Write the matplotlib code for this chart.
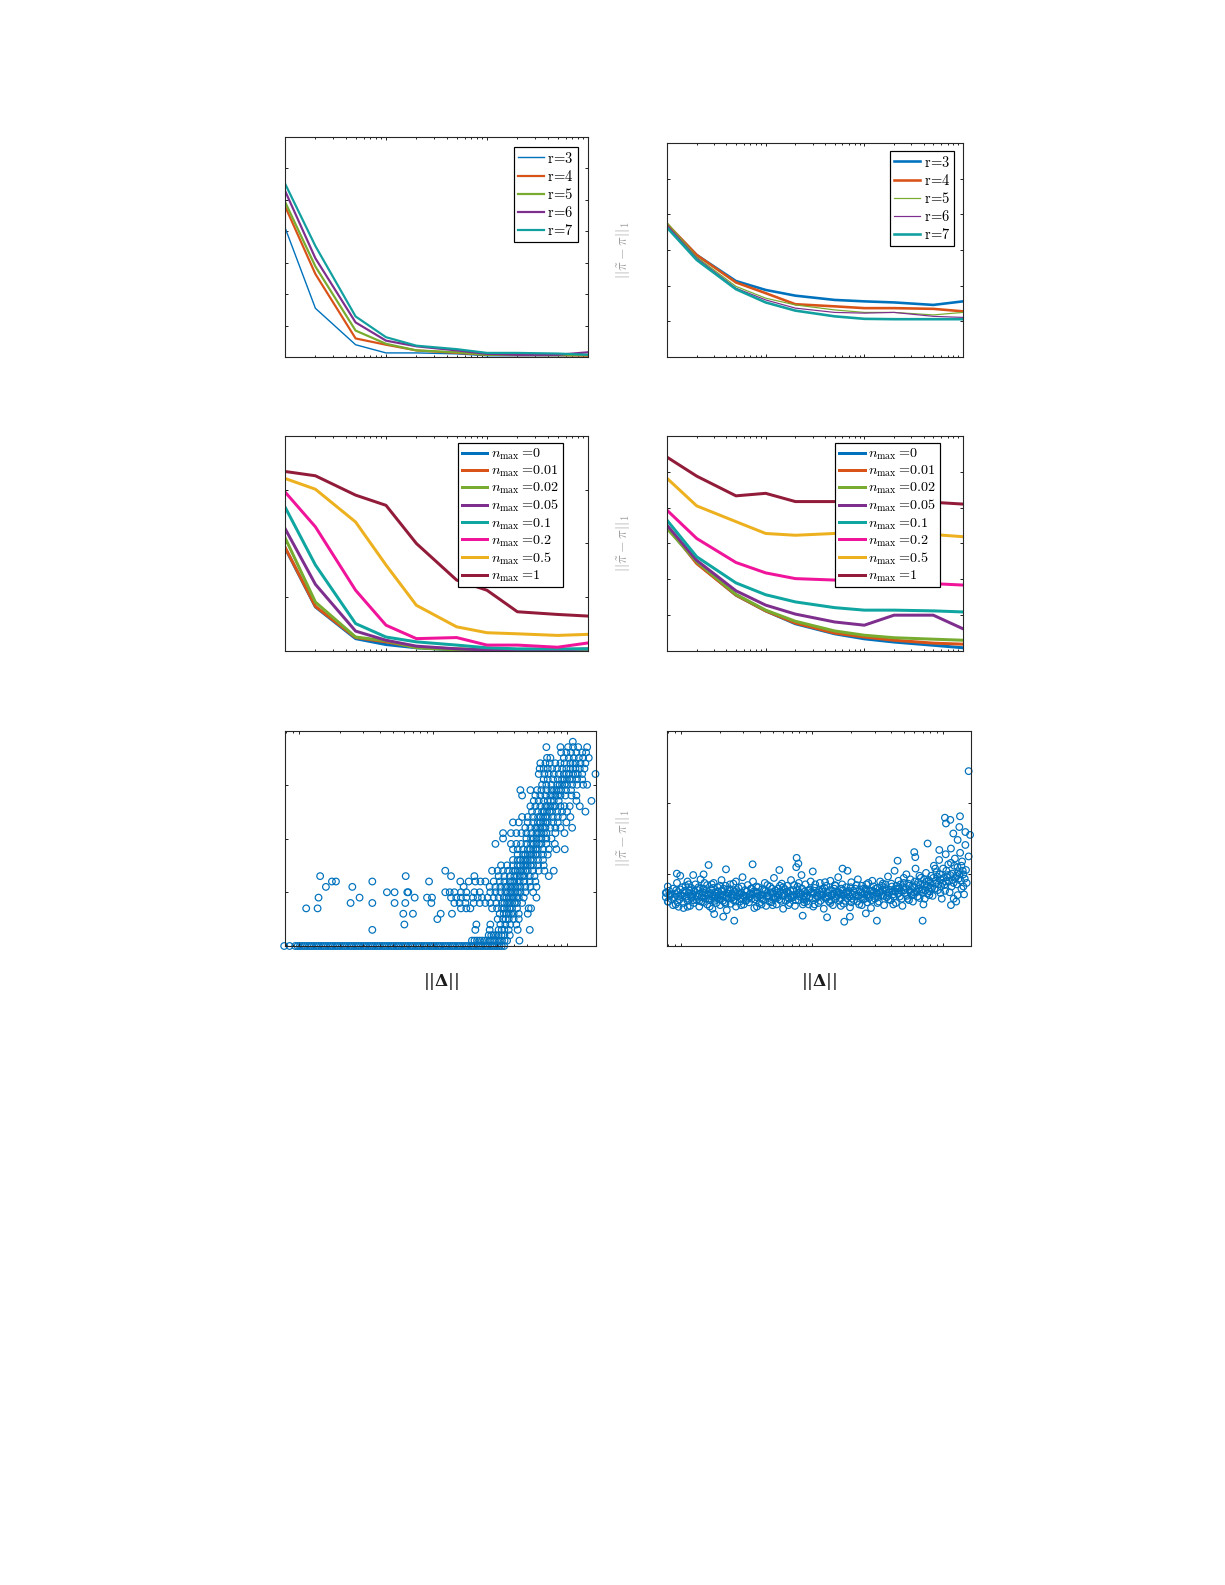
import numpy as np
import matplotlib.pyplot as plt
from matplotlib.ticker import LogLocator, NullFormatter, MultipleLocator

plt.rcParams['mathtext.fontset'] = 'cm'
plt.rcParams['font.family'] = ['DejaVu Serif']

# ---------------- data ----------------
x_samples = [1, 2, 5, 10, 20, 50, 100, 200, 500, 1000]

r_labels = ['3', '4', '5', '6', '7']
r_colors = ['#0072BD', '#D95319', '#77AC30', '#7E2F8E', '#129FA0']

# top left
r_left = [
    [4.12, 1.55, 0.39, 0.13, 0.13, 0.10, 0.04, 0.04, 0.04, 0.05],
    [4.80, 2.64, 0.59, 0.39, 0.21, 0.13, 0.07, 0.06, 0.06, 0.04],
    [4.94, 2.88, 0.84, 0.42, 0.21, 0.15, 0.07, 0.07, 0.06, 0.06],
    [5.29, 3.14, 1.10, 0.52, 0.34, 0.21, 0.10, 0.07, 0.07, 0.15],
    [5.52, 3.53, 1.29, 0.63, 0.36, 0.25, 0.13, 0.13, 0.11, 0.07],
]
r_left_lw = [0.7, 1.1, 1.1, 1.1, 1.1]

# top right
r_right = [
    [3.70, 2.86, 2.13, 1.88, 1.72, 1.60, 1.56, 1.53, 1.46, 1.56],
    [3.73, 2.86, 2.09, 1.79, 1.48, 1.42, 1.37, 1.37, 1.35, 1.28],
    [3.77, 2.80, 1.98, 1.65, 1.46, 1.32, 1.25, 1.25, 1.18, 1.25],
    [3.70, 2.77, 1.93, 1.60, 1.37, 1.25, 1.23, 1.25, 1.14, 1.11],
    [3.63, 2.72, 1.90, 1.53, 1.30, 1.14, 1.07, 1.06, 1.06, 1.06],
]
r_right_lw = [1.3, 1.3, 0.6, 0.6, 1.3]

n_labels = ['0', '0.01', '0.02', '0.05', '0.1', '0.2', '0.5', '1']
n_colors = ['#0072BD', '#D95319', '#77AC30', '#7E2F8E', '#0FA5A0',
            '#F0149A', '#EDB120', '#921B3A']

# middle left
n_left = [
    [1.92, 0.82, 0.23, 0.12, 0.06, 0.02, 0.01, 0.01, 0.01, 0.01],
    [1.93, 0.83, 0.25, 0.17, 0.07, 0.04, 0.02, 0.01, 0.02, 0.02],
    [2.11, 0.91, 0.26, 0.19, 0.06, 0.02, 0.01, 0.01, 0.01, 0.01],
    [2.28, 1.24, 0.37, 0.20, 0.09, 0.04, 0.02, 0.02, 0.02, 0.04],
    [2.68, 1.60, 0.51, 0.26, 0.17, 0.11, 0.06, 0.04, 0.04, 0.04],
    [2.96, 2.31, 1.13, 0.48, 0.23, 0.25, 0.11, 0.11, 0.07, 0.15],
    [3.21, 3.01, 2.40, 1.60, 0.85, 0.45, 0.34, 0.32, 0.29, 0.31],
    [3.34, 3.26, 2.90, 2.71, 2.00, 1.32, 1.13, 0.73, 0.68, 0.65],
]

# middle right
n_right = [
    [3.47, 2.46, 1.56, 1.12, 0.76, 0.48, 0.34, 0.25, 0.16, 0.09],
    [3.49, 2.44, 1.56, 1.12, 0.78, 0.50, 0.39, 0.30, 0.22, 0.19],
    [3.42, 2.49, 1.58, 1.14, 0.83, 0.56, 0.44, 0.37, 0.33, 0.30],
    [3.51, 2.53, 1.68, 1.28, 1.03, 0.81, 0.72, 1.00, 1.00, 0.62],
    [3.65, 2.63, 1.90, 1.57, 1.37, 1.21, 1.14, 1.14, 1.12, 1.09],
    [3.93, 3.14, 2.47, 2.18, 2.02, 1.98, 1.96, 1.93, 1.88, 1.84],
    [4.82, 4.05, 3.61, 3.28, 3.23, 3.28, 3.28, 3.28, 3.25, 3.19],
    [5.41, 4.88, 4.33, 4.40, 4.17, 4.17, 4.17, 4.16, 4.15, 4.10],
]

# bottom left scatter: rows of (error, log10 ||Delta||)
scatter5_rows = [
    (0.0, [-0.112, -0.072, -0.030, -0.012, 0.005, 0.022, 0.040, 0.058, 0.075, 0.092,
           0.110, 0.128, 0.145, 0.163, 0.180, 0.198, 0.215, 0.233, 0.250, 0.268,
           0.285, 0.303, 0.320, 0.338, 0.355, 0.373, 0.390, 0.408, 0.425, 0.443,
           0.460, 0.478, 0.495, 0.513, 0.530, 0.548, 0.565, 0.583, 0.600, 0.618,
           0.635, 0.653, 0.670, 0.688, 0.705, 0.723, 0.740, 0.758, 0.775, 0.793,
           0.810, 0.828, 0.845, 0.863, 0.880, 0.898, 0.915, 0.933, 0.950, 0.968,
           0.985, 1.003, 1.020, 1.038, 1.055, 1.073, 1.090, 1.108, 1.125, 1.143,
           1.160, 1.178, 1.195, 1.213, 1.230, 1.248, 1.265, 1.283, 1.300, 1.318,
           1.335, 1.353, 1.370, 1.388, 1.405, 1.423, 1.440, 1.458, 1.475, 1.493,
           1.510, 1.528]),
    (0.1, [1.288, 1.307, 1.326, 1.345, 1.363, 1.382, 1.400, 1.420, 1.438, 1.456,
           1.475, 1.494, 1.512, 1.531, 1.550, 1.642]),
    (0.2, [1.413, 1.432, 1.450, 1.468, 1.487, 1.508, 1.530, 1.570]),
    (0.3, [0.545, 1.313, 1.420, 1.487, 1.510, 1.530, 1.562, 1.629, 1.719]),
    (0.4, [0.784, 1.321, 1.425, 1.500, 1.537, 1.574, 1.619]),
    (0.5, [1.030, 1.480, 1.520, 1.540, 1.562, 1.599, 1.637]),
    (0.6, [0.776, 0.848, 1.055, 1.139, 1.495, 1.525, 1.545, 1.562, 1.580, 1.599, 1.637, 1.704]),
    (0.7, [0.052, 0.137, 1.206, 1.246, 1.276, 1.438, 1.475, 1.512, 1.530, 1.550, 1.568,
           1.587, 1.624, 1.711, 1.729]),
    (0.8, [0.383, 0.545, 0.711, 0.791, 0.985, 1.157, 1.196, 1.239, 1.301, 1.346,
           1.388, 1.425, 1.470, 1.512, 1.530, 1.550, 1.568, 1.587, 1.606, 1.624, 1.662]),
    (0.9, [0.144, 0.450, 0.861, 0.953, 0.990, 1.132, 1.171, 1.206, 1.246, 1.296,
           1.331, 1.363, 1.405, 1.450, 1.487, 1.525, 1.545, 1.562, 1.580, 1.599, 1.618,
           1.637, 1.674, 1.769]),
    (1.0, [0.654, 0.711, 0.806, 0.813, 1.089, 1.122, 1.157, 1.206, 1.246, 1.306,
           1.346, 1.425, 1.463, 1.500, 1.537, 1.556, 1.574, 1.593, 1.612, 1.630,
           1.649, 1.686, 1.744]),
    (1.1, [0.199, 0.396, 1.226, 1.420, 1.463, 1.500, 1.537, 1.556, 1.574, 1.593,
           1.612, 1.630, 1.649, 1.686, 1.724, 1.769]),
    (1.2, [0.244, 0.274, 0.545, 0.968, 1.201, 1.264, 1.313, 1.351, 1.388, 1.450,
           1.495, 1.530, 1.570, 1.588, 1.604, 1.624, 1.644, 1.679, 1.719, 1.761]),
    (1.3, [0.156, 0.794, 1.132, 1.306, 1.487, 1.530, 1.570, 1.604, 1.624, 1.644,
           1.662, 1.679, 1.719, 1.754, 1.861]),
    (1.4, [1.089, 1.438, 1.480, 1.520, 1.557, 1.594, 1.612, 1.629, 1.649, 1.669,
           1.686, 1.704, 1.744, 1.786, 1.828, 1.898]),
    (1.5, [1.505, 1.550, 1.594, 1.629, 1.649, 1.669, 1.686, 1.704, 1.724, 1.744,
           1.781, 1.823]),
    (1.6, [1.594, 1.629, 1.649, 1.669, 1.686, 1.704, 1.724, 1.744, 1.781, 1.818]),
    (1.7, [1.629, 1.669, 1.686, 1.704, 1.724, 1.744, 1.762, 1.779, 1.818, 1.853]),
    (1.8, [1.594, 1.629, 1.669, 1.704, 1.724, 1.744, 1.762, 1.779, 1.818, 1.861,
           1.918, 1.980]),
    (1.9, [1.463, 1.579, 1.619, 1.654, 1.694, 1.729, 1.749, 1.769, 1.788, 1.806,
           1.843, 1.906]),
    (2.0, [1.520, 1.694, 1.729, 1.749, 1.769, 1.788, 1.806, 1.843, 1.881]),
    (2.1, [1.520, 1.579, 1.619, 1.657, 1.694, 1.731, 1.769, 1.788, 1.806, 1.825,
           1.843, 1.910, 1.978]),
    (2.2, [1.686, 1.724, 1.761, 1.780, 1.798, 1.817, 1.836, 1.873, 1.910, 1.948, 2.035]),
    (2.3, [1.594, 1.637, 1.704, 1.744, 1.779, 1.799, 1.818, 1.836, 1.853, 1.893,
           1.928, 1.992]),
    (2.4, [1.662, 1.704, 1.744, 1.781, 1.800, 1.818, 1.836, 1.853, 1.891, 1.928,
           1.965, 2.022]),
    (2.5, [1.736, 1.774, 1.811, 1.830, 1.848, 1.867, 1.886, 1.923, 1.960, 1.997, 2.134]),
    (2.6, [1.724, 1.761, 1.798, 1.836, 1.855, 1.873, 1.892, 1.910, 1.948, 1.978,
           2.017, 2.092]),
    (2.7, [1.749, 1.786, 1.823, 1.853, 1.876, 1.898, 1.935, 2.067, 2.179]),
    (2.8, [1.662, 1.761, 1.798, 1.836, 1.873, 1.892, 1.910, 1.930, 1.948, 1.985,
           2.030, 2.067]),
    (2.9, [1.649, 1.724, 1.774, 1.806, 1.843, 1.881, 1.900, 1.918, 1.936, 1.953,
           1.990, 2.027]),
    (3.0, [1.811, 1.843, 1.881, 1.923, 1.942, 1.960, 1.979, 1.997, 2.035, 2.072,
           2.117, 2.147]),
    (3.1, [1.823, 1.853, 1.893, 1.928, 1.960, 1.979, 1.997, 2.016, 2.035, 2.072, 2.110]),
    (3.2, [1.786, 1.828, 1.861, 1.898, 1.935, 1.973, 1.992, 2.010, 2.042, 2.060,
           2.077, 2.110, 2.209]),
    (3.3, [1.793, 1.823, 1.853, 1.886, 1.923, 1.960, 1.992, 2.022, 2.041, 2.060,
           2.092, 2.127]),
    (3.4, [1.798, 1.836, 1.868, 1.910, 1.948, 1.978, 2.022, 2.041, 2.060, 2.097, 2.134]),
    (3.5, [1.848, 1.873, 1.973, 2.010, 2.047, 2.085, 2.117, 2.159]),
    (3.6, [1.953, 1.992, 2.027, 2.067, 2.110, 2.139]),
    (3.7, [1.843, 1.948, 2.005, 2.042, 2.080, 2.147]),
    (3.8, [2.040]),
]

# bottom right scatter: (log10 ||Delta||, error)
scatter6_pts = [
    (-0.11, 0.74), (-0.10, 0.62), (-0.08, 0.72), (-0.06, 0.80), (-0.05, 0.68), (-0.04, 0.58),
    (-0.03, 0.88), (-0.02, 0.75), (-0.01, 0.65), (0.00, 0.71), (0.01, 0.82), (0.02, 0.60),
    (0.03, 0.77), (0.04, 0.69), (0.05, 0.90), (0.05, 0.63), (0.06, 0.74), (0.07, 0.56),
    (0.08, 0.81), (0.08, 0.67), (0.09, 0.72), (0.10, 0.60), (0.11, 0.86), (0.11, 0.70),
    (0.12, 0.64), (0.13, 0.78), (0.14, 0.55), (0.14, 0.73), (0.15, 0.93), (0.16, 0.68),
    (0.17, 0.80), (0.17, 0.61), (0.18, 0.74), (0.19, 0.66), (0.20, 0.85), (0.20, 0.58),
    (0.21, 0.72), (0.22, 0.64), (0.23, 0.79), (0.24, 0.52), (0.24, 0.69), (0.25, 0.88),
    (0.26, 0.75), (0.27, 0.60), (0.28, 0.82), (0.28, 0.67), (0.29, 0.71), (0.30, 0.57),
    (0.31, 0.92), (0.31, 0.77), (0.32, 0.63), (0.33, 0.70), (0.34, 0.84), (0.35, 0.50),
    (0.35, 0.74), (0.36, 0.66), (0.37, 0.79), (0.38, 0.59), (0.39, 0.72), (0.40, 0.87),
    (0.40, 0.64), (0.41, 0.76), (0.42, 0.55), (0.43, 0.69), (0.44, 0.81), (0.45, 0.62),
    (0.46, 0.74), (0.47, 0.96), (0.47, 0.67), (0.48, 0.58), (0.49, 0.78), (0.50, 0.70),
    (0.51, 0.85), (0.52, 0.61), (0.53, 0.73), (0.54, 0.66), (0.55, 0.90), (0.56, 0.53),
    (0.57, 0.76), (0.58, 0.68), (0.59, 0.82), (0.60, 0.60), (0.61, 0.71), (0.62, 0.79),
    (0.63, 0.64), (0.64, 0.88), (0.65, 0.56), (0.66, 0.74), (0.67, 0.67), (0.68, 0.83),
    (0.69, 0.61), (0.70, 0.73), (0.71, 0.95), (0.72, 0.69), (0.73, 0.58), (0.74, 0.80),
    (0.75, 0.65), (0.76, 0.76), (0.77, 0.87), (0.78, 0.52), (0.79, 0.71), (0.80, 0.63),
    (0.81, 0.84), (0.82, 0.74), (0.83, 0.60), (0.84, 0.92), (0.85, 0.68), (0.86, 0.78),
    (0.87, 0.56), (0.88, 1.10), (0.88, 0.72), (0.89, 0.83), (0.90, 0.64), (0.91, 0.75),
    (0.92, 0.99), (0.93, 0.58), (0.94, 0.70), (0.95, 0.86), (0.96, 0.62), (0.97, 0.77),
    (0.98, 0.68), (0.99, 0.90), (1.00, 0.73), (1.01, 0.55), (1.02, 0.81), (1.03, 0.66),
    (1.04, 0.75), (1.05, 0.60), (1.06, 0.88), (1.07, 0.70), (1.08, 0.79), (1.09, 0.52),
    (1.10, 0.68), (1.11, 0.84), (1.12, 0.74), (1.13, 0.62), (1.14, 0.91), (1.15, 0.71),
    (1.16, 0.57), (1.17, 0.80), (1.18, 0.66), (1.19, 0.76), (1.20, 0.96), (1.21, 0.63),
    (1.22, 0.73), (1.23, 0.86), (1.24, 0.59), (1.25, 0.70), (1.26, 0.82), (1.27, 0.67),
    (1.28, 0.77), (1.29, 0.54), (1.30, 0.89), (1.31, 0.72), (1.32, 0.64), (1.33, 0.80),
    (1.34, 0.69), (1.35, 0.93), (1.36, 0.58), (1.37, 0.75), (1.38, 0.84), (1.39, 0.65),
    (1.40, 0.72), (1.41, 0.79), (1.42, 0.61), (1.43, 0.88), (1.44, 0.70), (1.45, 0.53),
    (1.46, 0.77), (1.47, 0.83), (1.48, 0.66), (1.49, 0.74), (1.50, 0.81), (1.51, 0.62),
    (1.52, 0.90), (1.53, 0.71), (1.54, 0.78), (1.55, 0.57), (1.56, 0.86), (1.57, 0.68),
    (1.58, 0.97), (1.59, 0.75), (1.60, 0.64), (1.61, 0.83), (1.62, 0.72), (1.63, 1.05),
    (1.64, 0.60), (1.65, 0.80), (1.66, 0.91), (1.67, 0.69), (1.68, 0.77), (1.69, 0.56),
    (1.70, 0.88), (1.71, 0.74), (1.72, 1.00), (1.73, 0.66), (1.74, 0.84), (1.75, 0.93),
    (1.76, 0.71), (1.77, 0.62), (1.78, 0.82), (1.79, 1.08), (1.80, 0.76), (1.81, 0.89),
    (1.82, 0.67), (1.83, 0.95), (1.84, 0.79), (1.85, 0.58), (1.86, 0.86), (1.87, 1.02),
    (1.88, 0.73), (1.89, 0.92), (1.90, 0.81), (1.91, 0.98), (1.92, 0.70), (1.93, 1.12),
    (1.94, 0.87), (1.95, 1.03), (1.96, 0.78), (1.97, 1.20), (1.98, 0.93), (1.99, 0.66),
    (2.00, 1.08), (2.01, 0.85), (2.02, 1.28), (2.03, 0.96), (2.04, 1.14), (2.05, 0.75),
    (2.06, 1.36), (2.07, 1.01), (2.08, 0.88), (2.09, 1.22), (2.10, 0.62), (2.11, 1.10),
    (2.12, 0.94), (2.13, 1.30), (2.14, 0.80), (2.15, 1.05), (2.16, 0.72),
    # second pass through the dense core
    (-0.115, 0.68), (-0.09, 0.77), (-0.07, 0.65), (-0.045, 0.73), (-0.025, 0.61), (-0.005, 0.79),
    (0.015, 0.70), (0.035, 0.84), (0.045, 0.66), (0.065, 0.78), (0.075, 0.71), (0.095, 0.64),
    (0.105, 0.76), (0.125, 0.69), (0.135, 0.82), (0.155, 0.62), (0.165, 0.75), (0.185, 0.70),
    (0.195, 0.78), (0.215, 0.66), (0.225, 0.74), (0.245, 0.81), (0.255, 0.63), (0.265, 0.70),
    (0.285, 0.76), (0.295, 0.65), (0.305, 0.72), (0.325, 0.80), (0.335, 0.61), (0.345, 0.68),
    (0.365, 0.73), (0.375, 0.86), (0.385, 0.67), (0.405, 0.71), (0.415, 0.62), (0.425, 0.78),
    (0.445, 0.73), (0.455, 0.66), (0.465, 0.83), (0.485, 0.70), (0.495, 0.63), (0.505, 0.76),
    (0.525, 0.68), (0.535, 0.80), (0.545, 0.72), (0.565, 0.65), (0.575, 0.83), (0.585, 0.74),
    (0.605, 0.67), (0.615, 0.58), (0.625, 0.72), (0.645, 0.77), (0.655, 0.69), (0.675, 0.62),
    (0.685, 0.75), (0.695, 0.80), (0.715, 0.66), (0.725, 0.77), (0.745, 0.71), (0.755, 0.84),
    (0.765, 0.63), (0.785, 0.74), (0.795, 0.79), (0.815, 0.68), (0.825, 0.66), (0.835, 0.77),
    (0.855, 0.71), (0.865, 0.85), (0.875, 0.64), (0.895, 0.74), (0.905, 0.69), (0.925, 0.80),
    (0.935, 0.65), (0.945, 0.76), (0.965, 0.71), (0.975, 0.58), (0.985, 0.79), (1.005, 0.67),
    (1.015, 0.74), (1.025, 0.86), (1.045, 0.69), (1.055, 0.78), (1.065, 0.63), (1.085, 0.72),
    (1.095, 0.81), (1.105, 0.66), (1.125, 0.70), (1.135, 0.78), (1.145, 0.64), (1.165, 0.73),
    (1.175, 0.85), (1.185, 0.69), (1.205, 0.75), (1.215, 0.67), (1.225, 0.80), (1.245, 0.72),
    (1.255, 0.63), (1.265, 0.76), (1.285, 0.69), (1.295, 0.82), (1.305, 0.66), (1.325, 0.74),
    (1.335, 0.71), (1.345, 0.62), (1.365, 0.79), (1.375, 0.68), (1.385, 0.74), (1.405, 0.66),
    (1.415, 0.86), (1.425, 0.72), (1.445, 0.77), (1.455, 0.64), (1.465, 0.70), (1.485, 0.80),
    (1.495, 0.73), (1.505, 0.68), (1.525, 0.76), (1.535, 0.84), (1.545, 0.70), (1.565, 0.79),
    (1.575, 0.74), (1.585, 0.65), (1.605, 0.87), (1.615, 0.76), (1.625, 0.69), (1.645, 0.84),
    (1.655, 0.73), (1.665, 0.80), (1.685, 0.66), (1.695, 0.82), (1.705, 0.78), (1.725, 0.70),
    (1.735, 0.87), (1.745, 0.77), (1.765, 0.83), (1.775, 0.72), (1.785, 0.90), (1.805, 0.69),
    (1.815, 0.80), (1.825, 0.85), (1.845, 0.74), (1.855, 0.93), (1.865, 0.78), (1.885, 0.84),
    (1.895, 0.71), (1.905, 0.88), (1.925, 0.95), (1.935, 0.80), (1.945, 0.91), (1.965, 0.86),
    (1.975, 1.00), (1.985, 0.83), (2.005, 0.95), (2.015, 0.77), (2.025, 1.05), (2.045, 0.90),
    (2.055, 0.99), (2.065, 0.83), (2.085, 1.12), (2.095, 0.95), (2.105, 0.86), (2.125, 1.00),
    (2.135, 0.91), (2.145, 1.18), (2.165, 0.94), (2.175, 1.06),
    # third pass through the dense core
    (-0.10, 0.83), (-0.06, 0.57), (-0.02, 0.69), (0.02, 0.53), (0.06, 0.86), (0.10, 0.77),
    (0.14, 0.63), (0.18, 0.88), (0.22, 0.55), (0.26, 0.66), (0.30, 0.84), (0.34, 0.59),
    (0.38, 0.77), (0.42, 0.90), (0.46, 0.57), (0.50, 0.64), (0.54, 0.80), (0.58, 0.55),
    (0.62, 0.66), (0.66, 0.85), (0.70, 0.57), (0.74, 0.68), (0.78, 0.82), (0.82, 0.57),
    (0.86, 0.69), (0.90, 0.88), (0.94, 0.61), (0.98, 0.78), (1.02, 0.58), (1.06, 0.72),
    (1.10, 0.89), (1.14, 0.60), (1.18, 0.84), (1.22, 0.56), (1.26, 0.74), (1.30, 0.61),
    (1.34, 0.85), (1.38, 0.57), (1.42, 0.76), (1.46, 0.91), (1.50, 0.60), (1.54, 0.87),
    (1.58, 0.70), (1.62, 0.58), (1.66, 0.74), (1.70, 0.95), (1.74, 0.64), (1.78, 0.75),
    (1.82, 0.98), (1.86, 0.66), (1.90, 0.76), (1.94, 1.08), (1.98, 0.74), (2.02, 0.90),
    (2.06, 1.16), (2.10, 0.98), (2.14, 1.12), (2.18, 0.88),
    (-0.085, 0.70), (-0.035, 0.78), (0.025, 0.74), (0.085, 0.69), (0.145, 0.80), (0.205, 0.70),
    (0.235, 0.86), (0.275, 0.73), (0.315, 0.69), (0.355, 0.79), (0.395, 0.68), (0.435, 0.75),
    (0.475, 0.71), (0.515, 0.67), (0.555, 0.76), (0.595, 0.70), (0.635, 0.78), (0.665, 0.71),
    (0.705, 0.68), (0.735, 0.74), (0.775, 0.70), (0.805, 0.76), (0.845, 0.67), (0.885, 0.78),
    (0.915, 0.72), (0.955, 0.68), (0.995, 0.75), (1.035, 0.70), (1.075, 0.76), (1.115, 0.68),
    (1.155, 0.77), (1.195, 0.71), (1.235, 0.78), (1.275, 0.72), (1.315, 0.77), (1.355, 0.70),
    (1.395, 0.80), (1.435, 0.67), (1.475, 0.76), (1.515, 0.74), (1.555, 0.81), (1.595, 0.78),
    (1.635, 0.76), (1.675, 0.86), (1.715, 0.81), (1.755, 0.74), (1.795, 0.85), (1.835, 0.77),
    (1.875, 0.90), (1.915, 0.81), (1.955, 0.97), (1.995, 0.88), (2.035, 0.99), (2.075, 0.92),
    (2.115, 1.03), (2.155, 1.00),
    # scattered outliers
    (-0.115, 0.743), (-0.097, 0.618), (-0.076, 0.72), (-0.031, 1.01), (-0.018, 0.548),
    (-0.005, 0.98), (0.051, 0.548), (0.094, 0.99), (0.173, 1.00), (0.211, 1.13),
    (0.254, 0.446), (0.323, 0.409), (0.344, 1.07), (0.407, 0.353), (0.547, 1.14),
    (0.751, 1.06), (0.883, 1.23), (0.896, 1.15), (0.929, 0.423), (1.006, 1.04),
    (1.115, 0.40), (1.233, 1.08), (1.246, 0.339), (1.271, 1.05), (1.289, 0.409),
    (1.411, 0.455), (1.495, 0.353), (1.653, 1.19), (1.780, 1.31), (1.788, 1.24),
    (1.844, 0.353), (1.882, 1.43), (1.971, 1.34), (2.014, 1.79), (2.022, 1.71),
    (2.055, 1.76), (2.060, 0.571), (2.078, 1.57), (2.111, 1.48), (2.129, 1.81),
    (2.124, 1.66), (2.170, 1.59), (2.170, 1.41), (2.195, 2.44), (2.206, 1.55),
    (2.195, 1.25), (2.155, 0.83), (2.111, 0.71), (2.081, 0.66),
]

# ---------------- figure ----------------
W, H = 1225, 1585
DPI = 144
fig = plt.figure(figsize=(W / DPI, H / DPI), dpi=DPI)


def box(x0, y0, x1, y1):
    return [x0 / W, 1 - y1 / H, (x1 - x0) / W, (y1 - y0) / H]


spine_col = '#262626'


def style(ax, ymax, xlim):
    ax.set_xscale('log')
    ax.set_xlim(*xlim)
    ax.set_ylim(0, ymax)
    ax.yaxis.set_major_locator(MultipleLocator(1))
    ax.xaxis.set_major_locator(LogLocator(base=10))
    ax.xaxis.set_minor_locator(LogLocator(base=10, subs=np.arange(2, 10)))
    ax.xaxis.set_minor_formatter(NullFormatter())
    ax.tick_params(which='both', direction='in', top=True, right=True,
                   labelbottom=False, labelleft=False, color=spine_col, width=0.5)
    ax.tick_params(which='major', length=1.4)
    ax.tick_params(which='minor', length=0.8)
    for s in ax.spines.values():
        s.set_linewidth(0.55)
        s.set_color(spine_col)


def legend(ax, handles, labels, anchor, fs, spacing):
    leg = ax.legend(handles, labels, loc='upper right', bbox_to_anchor=anchor,
                    borderaxespad=0, fontsize=fs, frameon=True, fancybox=False,
                    framealpha=1, edgecolor='black', handlelength=1.8,
                    handletextpad=0.25, labelspacing=spacing, borderpad=0.25)
    leg.get_frame().set_linewidth(0.6)


ylab = r'$||\tilde{\pi}-\pi||_1$'
r_leg = [r'$\mathrm{r}\!=\!%s$' % l for l in r_labels]
n_leg = [r'$n_{\max}=\!%s$' % l for l in n_labels]

# top left
ax1 = fig.add_axes(box(285, 137, 588, 357))
style(ax1, 7, (1, 1000))
hs = []
for ys, c, lw in zip(r_left, r_colors, r_left_lw):
    hs += ax1.plot(x_samples, ys, color=c, lw=lw)
legend(ax1, hs, r_leg, (0.967, 0.955), 7.3, 0.22)

# top right
ax2 = fig.add_axes(box(667, 143, 963, 357))
style(ax2, 6, (1, 1000))
hs = []
for ys, c, lw in zip(r_right, r_colors, r_right_lw):
    hs += ax2.plot(x_samples, ys, color=c, lw=lw)
legend(ax2, hs, r_leg, (0.970, 0.963), 7.3, 0.22)

# middle left
ax3 = fig.add_axes(box(285, 436, 588, 651))
style(ax3, 4, (1, 1000))
hs = []
for ys, c in zip(n_left, n_colors):
    hs += ax3.plot(x_samples, ys, color=c, lw=1.5)
legend(ax3, hs, n_leg, (0.917, 0.967), 7.1, 0.12)

# middle right
ax4 = fig.add_axes(box(667, 436, 963, 651))
style(ax4, 6, (1, 1000))
hs = []
for ys, c in zip(n_right, n_colors):
    hs += ax4.plot(x_samples, ys, color=c, lw=1.5)
legend(ax4, hs, n_leg, (0.922, 0.967), 7.1, 0.12)

dlim = (10 ** -0.106, 10 ** 2.213)
mk = dict(s=11.0, facecolors='none', edgecolors='#0072BD', linewidths=0.6,
          marker='o', clip_on=False)

# bottom left
ax5 = fig.add_axes(box(285, 731, 596, 946))
style(ax5, 4, dlim)
x5, y5 = [], []
for yv, xs in scatter5_rows:
    x5 += [10 ** v for v in xs]
    y5 += [yv] * len(xs)
ax5.scatter(x5, y5, **mk)

# bottom right
ax6 = fig.add_axes(box(667, 731, 971, 946))
style(ax6, 3, dlim)
x6 = [10 ** p[0] for p in scatter6_pts]
y6 = [p[1] for p in scatter6_pts]
ax6.scatter(x6, y6, **mk)

# labels
for yc in (250, 543.5, 838.5):
    fig.text(623 / W, 1 - yc / H, ylab, rotation=90, ha='center', va='center',
             fontsize=7.5, color='#a0a0a0')
for xc in (440.5, 819):
    fig.text(xc / W, 1 - 982 / H, r'$||\mathbf{\Delta}||$', ha='center',
             va='center', fontsize=8.5, color='#1a1a1a',
             math_fontfamily='dejavuserif')

fig.savefig('out.png', dpi=DPI)
